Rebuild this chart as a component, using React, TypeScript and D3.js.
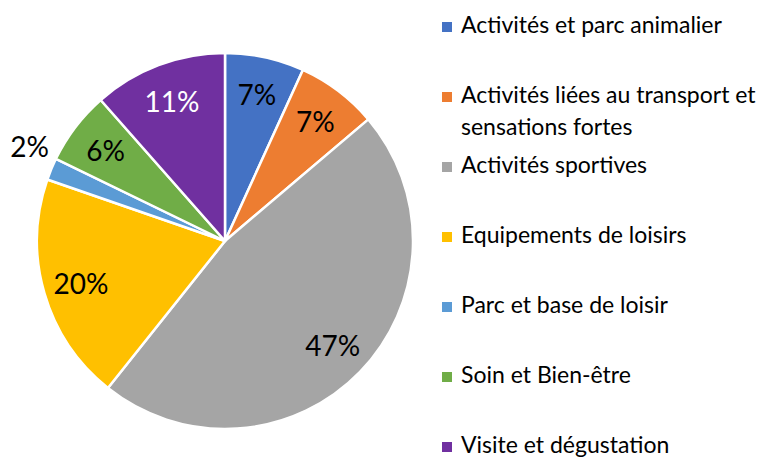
import React from "react";
import * as d3 from "d3";

const categories = [
  "Activités et parc animalier",
  "Activités liées au transport et|sensations fortes",
  "Activités sportives",
  "Equipements de loisirs",
  "Parc et base de loisir",
  "Soin et Bien-être",
  "Visite et dégustation",
];
const values = [6.8, 7.0, 46.9, 19.6, 1.9, 6.3, 11.5];
const labels = ["7%", "7%", "47%", "20%", "2%", "6%", "11%"];
const colors = ["#4472C4", "#ED7D31", "#A5A5A5", "#FFC000", "#5B9BD5", "#70AD47", "#7030A0"];
const labelColors = ["#000", "#000", "#000", "#000", "#000", "#000", "#fff"];
const outside = [false, false, false, false, true, false, false];

const W = 761;
const H = 459;
const cx = 225;
const cy = 241;
const R = 188;
const FONT = "Lato, 'Open Sans', sans-serif";

export default function App() {
  const pie = d3.pie<number>().sort(null).value((d) => d);
  const arcs = pie(values);
  const arc = d3.arc<d3.PieArcDatum<number>>().innerRadius(0).outerRadius(R);
  const labelArc = d3.arc<d3.PieArcDatum<number>>().innerRadius(150).outerRadius(150);
  const outArc = d3.arc<d3.PieArcDatum<number>>().innerRadius(218).outerRadius(218);

  const legendY = d3.scaleLinear().domain([0, 1]).range([33, 103]);

  return (
    <svg width={W} height={H} style={{ position: "absolute", left: 0, top: 0, background: "#fff" }}>
      <g transform={`translate(${cx},${cy})`}>
        {arcs.map((a, i) => (
          <path key={i} d={arc(a) || ""} fill={colors[i]} stroke="#fff" strokeWidth={2.5} strokeLinejoin="round" />
        ))}
        {arcs.map((a, i) => {
          let [x, y] = outside[i] ? outArc.centroid(a) : labelArc.centroid(a);
          if (outside[i]) {
            x += 6;
            y -= 12;
          }
          return (
            <text
              key={i}
              x={x}
              y={y}
              textAnchor="middle"
              dominantBaseline="central"
              fontFamily={FONT}
              fontSize={28}
              fill={labelColors[i]}
            >
              {labels[i]}
            </text>
          );
        })}
      </g>
      <g>
        {categories.map((c, i) => {
          const lines = c.split("|");
          const y = legendY(i);
          return (
            <g key={i}>
              <rect x={442} y={y - 11} width={10} height={10} fill={colors[i]} />
              {lines.map((l, j) => (
                <text key={j} x={461} y={y + j * 32} fontFamily={FONT} fontSize={23} fill="#000">
                  {l}
                </text>
              ))}
            </g>
          );
        })}
      </g>
    </svg>
  );
}
